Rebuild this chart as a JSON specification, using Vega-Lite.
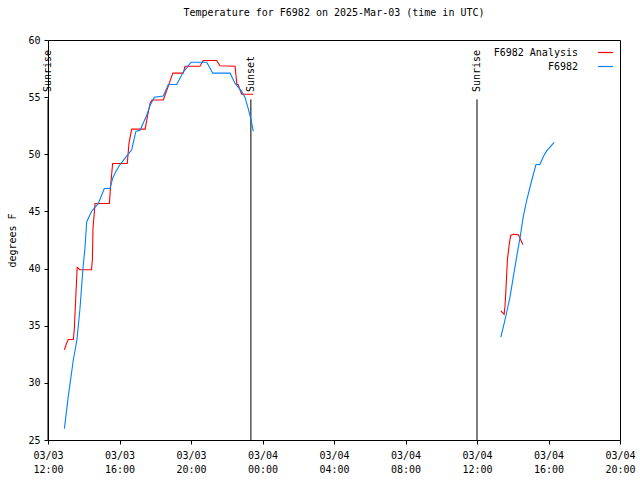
{
  "$schema": "https://vega.github.io/schema/vega-lite/v6.json",
  "width": 572,
  "height": 400,
  "autosize": "none",
  "padding": {"left": 48, "top": 40, "right": 20, "bottom": 40},
  "background": "white",
  "config": {
    "font": "DejaVu Sans Mono",
    "view": {"stroke": "black", "strokeWidth": 1},
    "axis": {"grid": false, "domain": false, "labelFont": "DejaVu Sans Mono", "labelFontSize": 10, "labelColor": "black", "tickColor": "black", "titleFont": "DejaVu Sans Mono", "titleFontSize": 10, "titleFontWeight": "normal", "titleColor": "black"},
    "legend": {"labelFont": "DejaVu Sans Mono", "labelFontSize": 10, "labelColor": "black"}
  },
  "title": {"text": "Temperature for F6982 on 2025-Mar-03 (time in UTC)", "font": "DejaVu Sans Mono", "fontSize": 10, "fontWeight": "normal", "color": "black", "offset": 17, "anchor": "middle"},
  "datasets": {
    "temps": [
      {"series": "F6982 Analysis", "seg": "day1", "time": "2025-03-03T12:55:00Z", "temp": 32.9},
      {"series": "F6982 Analysis", "seg": "day1", "time": "2025-03-03T13:03:00Z", "temp": 33.5},
      {"series": "F6982 Analysis", "seg": "day1", "time": "2025-03-03T13:08:00Z", "temp": 33.8},
      {"series": "F6982 Analysis", "seg": "day1", "time": "2025-03-03T13:25:00Z", "temp": 33.8},
      {"series": "F6982 Analysis", "seg": "day1", "time": "2025-03-03T13:28:00Z", "temp": 34.6},
      {"series": "F6982 Analysis", "seg": "day1", "time": "2025-03-03T13:31:00Z", "temp": 36.2},
      {"series": "F6982 Analysis", "seg": "day1", "time": "2025-03-03T13:35:00Z", "temp": 38.5},
      {"series": "F6982 Analysis", "seg": "day1", "time": "2025-03-03T13:38:00Z", "temp": 40.1},
      {"series": "F6982 Analysis", "seg": "day1", "time": "2025-03-03T13:47:00Z", "temp": 39.9},
      {"series": "F6982 Analysis", "seg": "day1", "time": "2025-03-03T14:26:00Z", "temp": 39.9},
      {"series": "F6982 Analysis", "seg": "day1", "time": "2025-03-03T14:29:00Z", "temp": 40.8},
      {"series": "F6982 Analysis", "seg": "day1", "time": "2025-03-03T14:31:00Z", "temp": 43.5},
      {"series": "F6982 Analysis", "seg": "day1", "time": "2025-03-03T14:38:00Z", "temp": 45.7},
      {"series": "F6982 Analysis", "seg": "day1", "time": "2025-03-03T15:26:00Z", "temp": 45.7},
      {"series": "F6982 Analysis", "seg": "day1", "time": "2025-03-03T15:31:00Z", "temp": 47.5},
      {"series": "F6982 Analysis", "seg": "day1", "time": "2025-03-03T15:37:00Z", "temp": 49.2},
      {"series": "F6982 Analysis", "seg": "day1", "time": "2025-03-03T16:26:00Z", "temp": 49.2},
      {"series": "F6982 Analysis", "seg": "day1", "time": "2025-03-03T16:32:00Z", "temp": 51.0},
      {"series": "F6982 Analysis", "seg": "day1", "time": "2025-03-03T16:41:00Z", "temp": 52.2},
      {"series": "F6982 Analysis", "seg": "day1", "time": "2025-03-03T17:26:00Z", "temp": 52.2},
      {"series": "F6982 Analysis", "seg": "day1", "time": "2025-03-03T17:35:00Z", "temp": 53.5},
      {"series": "F6982 Analysis", "seg": "day1", "time": "2025-03-03T17:43:00Z", "temp": 54.5},
      {"series": "F6982 Analysis", "seg": "day1", "time": "2025-03-03T17:49:00Z", "temp": 54.75},
      {"series": "F6982 Analysis", "seg": "day1", "time": "2025-03-03T18:27:00Z", "temp": 54.75},
      {"series": "F6982 Analysis", "seg": "day1", "time": "2025-03-03T18:43:00Z", "temp": 55.9},
      {"series": "F6982 Analysis", "seg": "day1", "time": "2025-03-03T18:59:00Z", "temp": 57.1},
      {"series": "F6982 Analysis", "seg": "day1", "time": "2025-03-03T19:34:00Z", "temp": 57.1},
      {"series": "F6982 Analysis", "seg": "day1", "time": "2025-03-03T19:40:00Z", "temp": 57.7},
      {"series": "F6982 Analysis", "seg": "day1", "time": "2025-03-03T20:30:00Z", "temp": 57.7},
      {"series": "F6982 Analysis", "seg": "day1", "time": "2025-03-03T20:41:00Z", "temp": 58.2},
      {"series": "F6982 Analysis", "seg": "day1", "time": "2025-03-03T21:26:00Z", "temp": 58.2},
      {"series": "F6982 Analysis", "seg": "day1", "time": "2025-03-03T21:37:00Z", "temp": 57.75},
      {"series": "F6982 Analysis", "seg": "day1", "time": "2025-03-03T22:28:00Z", "temp": 57.7},
      {"series": "F6982 Analysis", "seg": "day1", "time": "2025-03-03T22:34:00Z", "temp": 56.1},
      {"series": "F6982 Analysis", "seg": "day1", "time": "2025-03-03T22:38:00Z", "temp": 56.1},
      {"series": "F6982 Analysis", "seg": "day1", "time": "2025-03-03T22:50:00Z", "temp": 55.25},
      {"series": "F6982 Analysis", "seg": "day1", "time": "2025-03-03T23:29:00Z", "temp": 55.25},
      {"series": "F6982 Analysis", "seg": "day2", "time": "2025-03-04T13:20:00Z", "temp": 36.3},
      {"series": "F6982 Analysis", "seg": "day2", "time": "2025-03-04T13:31:00Z", "temp": 36.0},
      {"series": "F6982 Analysis", "seg": "day2", "time": "2025-03-04T13:34:00Z", "temp": 36.7},
      {"series": "F6982 Analysis", "seg": "day2", "time": "2025-03-04T13:37:00Z", "temp": 38.1},
      {"series": "F6982 Analysis", "seg": "day2", "time": "2025-03-04T13:42:00Z", "temp": 40.75},
      {"series": "F6982 Analysis", "seg": "day2", "time": "2025-03-04T13:48:00Z", "temp": 42.1},
      {"series": "F6982 Analysis", "seg": "day2", "time": "2025-03-04T13:53:00Z", "temp": 42.9},
      {"series": "F6982 Analysis", "seg": "day2", "time": "2025-03-04T14:02:00Z", "temp": 43.0},
      {"series": "F6982 Analysis", "seg": "day2", "time": "2025-03-04T14:19:00Z", "temp": 42.95},
      {"series": "F6982 Analysis", "seg": "day2", "time": "2025-03-04T14:27:00Z", "temp": 42.5},
      {"series": "F6982 Analysis", "seg": "day2", "time": "2025-03-04T14:34:00Z", "temp": 42.1},
      {"series": "F6982", "seg": "day1", "time": "2025-03-03T12:55:00Z", "temp": 26.0},
      {"series": "F6982", "seg": "day1", "time": "2025-03-03T13:08:00Z", "temp": 28.8},
      {"series": "F6982", "seg": "day1", "time": "2025-03-03T13:25:00Z", "temp": 32.0},
      {"series": "F6982", "seg": "day1", "time": "2025-03-03T13:37:00Z", "temp": 33.75},
      {"series": "F6982", "seg": "day1", "time": "2025-03-03T13:47:00Z", "temp": 36.4},
      {"series": "F6982", "seg": "day1", "time": "2025-03-03T13:58:00Z", "temp": 40.2},
      {"series": "F6982", "seg": "day1", "time": "2025-03-03T14:04:00Z", "temp": 41.8},
      {"series": "F6982", "seg": "day1", "time": "2025-03-03T14:10:00Z", "temp": 44.1},
      {"series": "F6982", "seg": "day1", "time": "2025-03-03T14:26:00Z", "temp": 45.0},
      {"series": "F6982", "seg": "day1", "time": "2025-03-03T14:49:00Z", "temp": 45.7},
      {"series": "F6982", "seg": "day1", "time": "2025-03-03T15:09:00Z", "temp": 47.0},
      {"series": "F6982", "seg": "day1", "time": "2025-03-03T15:28:00Z", "temp": 47.0},
      {"series": "F6982", "seg": "day1", "time": "2025-03-03T15:37:00Z", "temp": 47.9},
      {"series": "F6982", "seg": "day1", "time": "2025-03-03T15:50:00Z", "temp": 48.6},
      {"series": "F6982", "seg": "day1", "time": "2025-03-03T16:02:00Z", "temp": 49.1},
      {"series": "F6982", "seg": "day1", "time": "2025-03-03T16:26:00Z", "temp": 49.9},
      {"series": "F6982", "seg": "day1", "time": "2025-03-03T16:41:00Z", "temp": 50.4},
      {"series": "F6982", "seg": "day1", "time": "2025-03-03T16:55:00Z", "temp": 52.0},
      {"series": "F6982", "seg": "day1", "time": "2025-03-03T17:09:00Z", "temp": 52.1},
      {"series": "F6982", "seg": "day1", "time": "2025-03-03T17:31:00Z", "temp": 53.4},
      {"series": "F6982", "seg": "day1", "time": "2025-03-03T17:43:00Z", "temp": 54.3},
      {"series": "F6982", "seg": "day1", "time": "2025-03-03T17:57:00Z", "temp": 55.0},
      {"series": "F6982", "seg": "day1", "time": "2025-03-03T18:27:00Z", "temp": 55.1},
      {"series": "F6982", "seg": "day1", "time": "2025-03-03T18:44:00Z", "temp": 56.1},
      {"series": "F6982", "seg": "day1", "time": "2025-03-03T19:12:00Z", "temp": 56.1},
      {"series": "F6982", "seg": "day1", "time": "2025-03-03T19:34:00Z", "temp": 57.2},
      {"series": "F6982", "seg": "day1", "time": "2025-03-03T19:47:00Z", "temp": 57.6},
      {"series": "F6982", "seg": "day1", "time": "2025-03-03T20:00:00Z", "temp": 58.05},
      {"series": "F6982", "seg": "day1", "time": "2025-03-03T20:53:00Z", "temp": 58.05},
      {"series": "F6982", "seg": "day1", "time": "2025-03-03T21:13:00Z", "temp": 57.1},
      {"series": "F6982", "seg": "day1", "time": "2025-03-03T22:11:00Z", "temp": 57.1},
      {"series": "F6982", "seg": "day1", "time": "2025-03-03T22:28:00Z", "temp": 56.2},
      {"series": "F6982", "seg": "day1", "time": "2025-03-03T22:50:00Z", "temp": 55.5},
      {"series": "F6982", "seg": "day1", "time": "2025-03-03T23:01:00Z", "temp": 55.0},
      {"series": "F6982", "seg": "day1", "time": "2025-03-03T23:13:00Z", "temp": 53.9},
      {"series": "F6982", "seg": "day1", "time": "2025-03-03T23:22:00Z", "temp": 53.0},
      {"series": "F6982", "seg": "day1", "time": "2025-03-03T23:29:00Z", "temp": 52.0},
      {"series": "F6982", "seg": "day2", "time": "2025-03-04T13:20:00Z", "temp": 34.0},
      {"series": "F6982", "seg": "day2", "time": "2025-03-04T13:34:00Z", "temp": 35.5},
      {"series": "F6982", "seg": "day2", "time": "2025-03-04T13:51:00Z", "temp": 37.55},
      {"series": "F6982", "seg": "day2", "time": "2025-03-04T14:02:00Z", "temp": 39.3},
      {"series": "F6982", "seg": "day2", "time": "2025-03-04T14:13:00Z", "temp": 41.0},
      {"series": "F6982", "seg": "day2", "time": "2025-03-04T14:25:00Z", "temp": 42.8},
      {"series": "F6982", "seg": "day2", "time": "2025-03-04T14:35:00Z", "temp": 44.5},
      {"series": "F6982", "seg": "day2", "time": "2025-03-04T14:47:00Z", "temp": 46.0},
      {"series": "F6982", "seg": "day2", "time": "2025-03-04T15:04:00Z", "temp": 47.75},
      {"series": "F6982", "seg": "day2", "time": "2025-03-04T15:18:00Z", "temp": 49.1},
      {"series": "F6982", "seg": "day2", "time": "2025-03-04T15:31:00Z", "temp": 49.1},
      {"series": "F6982", "seg": "day2", "time": "2025-03-04T15:43:00Z", "temp": 49.8},
      {"series": "F6982", "seg": "day2", "time": "2025-03-04T15:54:00Z", "temp": 50.3},
      {"series": "F6982", "seg": "day2", "time": "2025-03-04T16:19:00Z", "temp": 51.05}
    ],
    "sun": [
      {"event": "Sunrise", "time": "2025-03-03T12:00:00Z"},
      {"event": "Sunset", "time": "2025-03-03T23:21:00Z"},
      {"event": "Sunrise", "time": "2025-03-04T12:00:00Z"}
    ]
  },
  "layer": [
    {
      "data": {"name": "sun"},
      "mark": {"type": "rule", "color": "black", "strokeWidth": 1},
      "encoding": {
        "x": {"field": "time", "type": "temporal",
          "scale": {"type": "utc", "domain": [{"year": 2025, "month": 3, "date": 3, "hours": 12, "utc": true}, {"year": 2025, "month": 3, "date": 4, "hours": 20, "utc": true}]},
          "axis": {"orient": "bottom", "title": null, "tickSize": 4, "labelPadding": 6, "labelAngle": 0, "labelBaseline": "top", "labelLineHeight": 14,
            "values": [
              {"year": 2025, "month": 3, "date": 3, "hours": 12, "utc": true},
              {"year": 2025, "month": 3, "date": 3, "hours": 14, "utc": true},
              {"year": 2025, "month": 3, "date": 3, "hours": 16, "utc": true},
              {"year": 2025, "month": 3, "date": 3, "hours": 18, "utc": true},
              {"year": 2025, "month": 3, "date": 3, "hours": 20, "utc": true},
              {"year": 2025, "month": 3, "date": 3, "hours": 22, "utc": true},
              {"year": 2025, "month": 3, "date": 4, "hours": 0, "utc": true},
              {"year": 2025, "month": 3, "date": 4, "hours": 2, "utc": true},
              {"year": 2025, "month": 3, "date": 4, "hours": 4, "utc": true},
              {"year": 2025, "month": 3, "date": 4, "hours": 6, "utc": true},
              {"year": 2025, "month": 3, "date": 4, "hours": 8, "utc": true},
              {"year": 2025, "month": 3, "date": 4, "hours": 10, "utc": true},
              {"year": 2025, "month": 3, "date": 4, "hours": 12, "utc": true},
              {"year": 2025, "month": 3, "date": 4, "hours": 14, "utc": true},
              {"year": 2025, "month": 3, "date": 4, "hours": 16, "utc": true},
              {"year": 2025, "month": 3, "date": 4, "hours": 18, "utc": true},
              {"year": 2025, "month": 3, "date": 4, "hours": 20, "utc": true}
            ],
            "labelExpr": "utchours(datum.value) % 4 == 0 ? [utcFormat(datum.value, '%m/%d'), utcFormat(datum.value, '%H:%M')] : ''",
            "labelOverlap": false, "labelFlush": false}},
        "y": {"datum": 25, "type": "quantitative", "scale": {"domain": [25, 60], "nice": false, "zero": false},
          "axis": {"orient": "left", "title": "degrees F", "tickSize": 4, "labelPadding": 4, "values": [25, 30, 35, 40, 45, 50, 55, 60], "titlePadding": 10}},
        "y2": {"datum": 54.8}
      }
    },
    {
      "data": {"name": "sun"},
      "mark": {"type": "text", "angle": 270, "align": "left", "baseline": "middle", "font": "DejaVu Sans Mono", "fontSize": 10, "color": "black"},
      "encoding": {
        "x": {"field": "time", "type": "temporal"},
        "y": {"datum": 55.45, "type": "quantitative"},
        "text": {"field": "event"}
      }
    },
    {
      "data": {"name": "temps"},
      "mark": {"type": "line", "strokeWidth": 1.1, "clip": true},
      "encoding": {
        "x": {"field": "time", "type": "temporal"},
        "y": {"field": "temp", "type": "quantitative"},
        "detail": {"field": "seg", "type": "nominal"},
        "color": {"field": "series", "type": "nominal",
          "scale": {"domain": ["F6982 Analysis", "F6982"], "range": ["#ff0000", "#0080ff"]},
          "legend": {"orient": "top-right", "title": null, "symbolType": "stroke", "symbolSize": 225, "symbolStrokeWidth": 1.2, "labelAlign": "right", "labelOffset": -36, "offset": 4, "padding": 0, "rowPadding": 0}}
      }
    }
  ]
}
